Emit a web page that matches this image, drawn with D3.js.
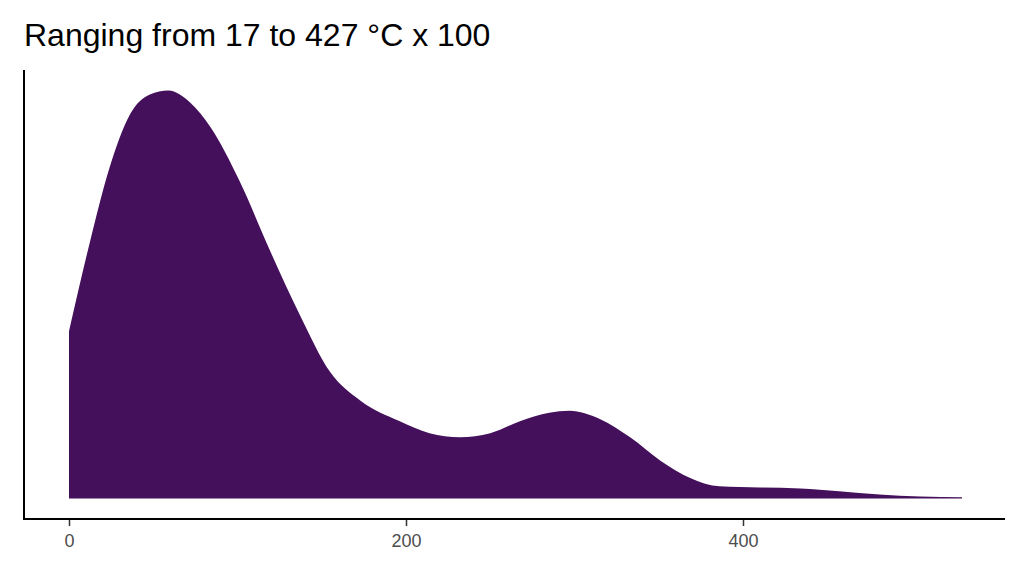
<!DOCTYPE html>
<html><head><meta charset="utf-8">
<script src="https://cdn.jsdelivr.net/npm/d3@7"></script>
<style>body{margin:0;background:#fff}</style></head>
<body><svg id="c" width="1024" height="576"></svg>
<script>
const xs = [0,12.5,24,36,48,59,72,84,101,119,137,155,173,196,214,232,250,268,285,297,315,333,351,369,386,410,434,457,481,505,530];
const dens = [0.41,0.63,0.81,0.94,0.99,1.0,0.97,0.91,0.78,0.61,0.45,0.31,0.24,0.19,0.16,0.15,0.16,0.19,0.21,0.215,0.195,0.15,0.093,0.05,0.03,0.027,0.025,0.018,0.01,0.005,0.003];
const xTicks = [0,200,400];
const title = "Ranging from 17 to 427 °C x 100";

const svg = d3.select("#c");
const x = d3.scaleLinear().domain([0,400]).range([69,743]);
const y = d3.scaleLinear().domain([-0.05,1.05]).range([519,70]);
const data = xs.map((v,i)=>[v,dens[i]]);

svg.append("path").datum(data)
  .attr("fill","#440f5b")
  .attr("d", d3.area().x(d=>x(d[0])).y0(y(0)).y1(d=>y(d[1])).curve(d3.curveMonotoneX));

svg.append("line").attr("x1",24).attr("x2",24).attr("y1",70).attr("y2",519).attr("stroke","#000").attr("stroke-width",2);
const ax = svg.append("g").attr("transform","translate(0,519)")
  .call(d3.axisBottom(x).tickValues(xTicks).tickSize(7).tickPadding(8));
ax.select(".domain").remove();
svg.append("line").attr("x1",23).attr("x2",1005).attr("y1",519).attr("y2",519).attr("stroke","#000").attr("stroke-width",2);
ax.selectAll("line").attr("stroke","#333").attr("stroke-width",1.5);
ax.selectAll("text").attr("fill","#4d4d4d").style("font-family","Liberation Sans, Arial, sans-serif").style("font-size","18px");

svg.append("text").attr("x",24).attr("y",46).text(title)
  .style("font-family","Liberation Sans, Arial, sans-serif").style("font-size","32px").attr("fill","#000");
</script></body></html>
